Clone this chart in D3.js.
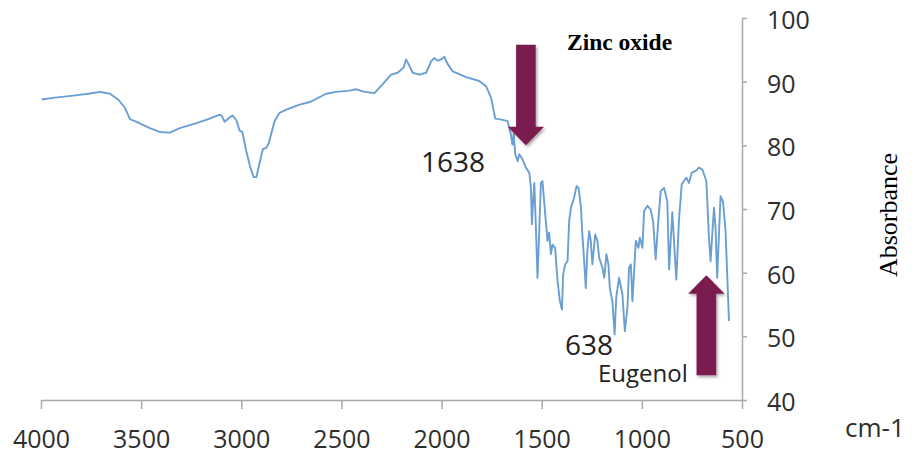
<!DOCTYPE html>
<html>
<head>
<meta charset="utf-8">
<script src="https://cdn.jsdelivr.net/npm/d3@7"></script>
<style>
  html, body { margin: 0; background: #fff; }
  svg { display: block; }
</style>
</head>
<body>
<svg id="chart" width="912" height="456"></svg>
<script>
// FTIR spectrum: wavenumber (cm-1) and absorbance
const wavenumber = [
  3997, 3930, 3839, 3764, 3706, 3656, 3615, 3581, 3556, 3523,
  3457, 3407, 3357, 3307, 3224, 3158, 3111, 3099, 3083, 3061,
  3044, 3024, 3008, 2995, 2975, 2955, 2938, 2925, 2908, 2892,
  2875, 2862, 2834, 2809, 2775, 2709, 2658, 2576, 2526, 2460,
  2426, 2385, 2335, 2294, 2252, 2219, 2190, 2177, 2164, 2144,
  2111, 2077, 2052, 2036, 2019, 2002, 1986, 1970, 1944, 1878,
  1812, 1778, 1753, 1732, 1695, 1670, 1662, 1654, 1646, 1640,
  1632, 1620, 1612, 1596, 1579, 1562, 1554, 1549, 1542, 1537,
  1529, 1521, 1513, 1504, 1496, 1488, 1471, 1463, 1454, 1446,
  1433, 1421, 1409, 1399, 1393, 1383, 1371, 1363, 1354, 1338,
  1326, 1316, 1304, 1297, 1288, 1280, 1272, 1263, 1255, 1247,
  1233, 1222, 1213, 1197, 1188, 1177, 1167, 1160, 1147, 1136,
  1128, 1114, 1097, 1085, 1072, 1064, 1055, 1047, 1030, 1017,
  1010, 997, 989, 972, 956, 944, 931, 918, 906, 889,
  873, 864, 848, 828, 815, 801, 778, 765, 751, 731,
  715, 698, 678, 665, 657, 640, 632, 624, 607, 595,
  582, 565
];
const absorbance = [
  87.2, 87.5, 87.8, 88.1, 88.4, 88.1, 87.2, 85.9, 84.1, 83.7,
  82.7, 82.1, 82.0, 82.7, 83.5, 84.2, 84.8, 84.7, 83.7, 84.3,
  84.7, 83.9, 82.3, 82.1, 79.1, 76.5, 75.0, 75.0, 77.3, 79.4,
  79.6, 80.4, 83.8, 85.1, 85.6, 86.4, 86.8, 88.1, 88.4, 88.6,
  88.8, 88.4, 88.2, 89.6, 91.1, 91.4, 92.2, 93.5, 92.7, 91.4,
  91.1, 91.4, 93.2, 93.7, 93.3, 93.5, 93.9, 92.8, 91.6, 90.7,
  90.1, 89.3, 87.5, 84.2, 84.0, 83.8, 82.7, 81.7, 80.1, 81.8,
  78.6, 77.5, 78.6, 77.8, 76.5, 75.7, 73.3, 67.6, 71.8, 74.1,
  67.0, 59.2, 66.0, 74.1, 74.4, 71.2, 65.0, 66.3, 62.9, 64.4,
  63.9, 58.7, 55.5, 54.2, 59.7, 61.3, 61.8, 68.1, 70.2, 71.8,
  73.6, 73.3, 70.2, 66.0, 61.8, 57.6, 63.4, 66.5, 65.0, 61.3,
  66.0, 65.0, 62.3, 60.8, 59.2, 62.9, 61.3, 57.6, 55.5, 50.3,
  56.1, 59.2, 56.6, 50.8, 54.5, 60.8, 61.3, 55.5, 65.0, 63.9,
  65.5, 63.9, 69.7, 70.5, 69.9, 68.1, 62.1, 68.1, 72.8, 73.3,
  71.2, 60.5, 69.5, 58.9, 68.1, 73.9, 74.9, 74.1, 75.7, 76.0,
  76.5, 76.2, 74.4, 65.5, 61.8, 70.2, 67.0, 59.2, 72.0, 71.2,
  66.5, 52.4
];

const xTickValues = [4000, 3500, 3000, 2500, 2000, 1500, 1000, 500];
const yTickValues = [40, 50, 60, 70, 80, 90, 100];

const svg = d3.select('#chart');

const x = d3.scaleLinear().domain([4000, 500]).range([41, 742]);
const y = d3.scaleLinear().domain([40, 100]).range([400, 18]);

const axisColor = '#a9a9a9';
const labelColor = '#2e2e2e';
const sans = '"Open Sans", "DejaVu Sans", sans-serif';
const serif = '"Liberation Serif", "DejaVu Serif", serif';

// bottom axis (wavenumber)
const gx = svg.append('g')
  .attr('transform', `translate(0,${y(40)})`)
  .call(d3.axisBottom(x).tickValues(xTickValues).tickFormat(d3.format('d'))
    .tickSize(9).tickSizeOuter(0).tickPadding(21));
gx.select('.domain').attr('stroke', axisColor).attr('stroke-width', 1.5);
gx.selectAll('.tick line').attr('stroke', axisColor).attr('stroke-width', 1.5);
gx.selectAll('.tick text')
  .attr('fill', labelColor)
  .style('font-family', sans)
  .style('font-size', '25px');

// right axis (absorbance)
const gy = svg.append('g')
  .attr('transform', `translate(${x(500)},0)`)
  .call(d3.axisRight(y).tickValues(yTickValues).tickFormat(d3.format('d'))
    .tickSize(5).tickSizeOuter(0).tickPadding(20));
gy.select('.domain').attr('stroke', axisColor).attr('stroke-width', 1.5);
gy.selectAll('.tick line').attr('stroke', axisColor).attr('stroke-width', 1.5);
gy.selectAll('.tick text')
  .attr('fill', labelColor)
  .attr('dy', '0.42em')
  .style('font-family', sans)
  .style('font-size', '25px');

// spectrum trace
const points = wavenumber.map((w, i) => [w, absorbance[i]]);
const line = d3.line().x(d => x(d[0])).y(d => y(d[1]));
svg.append('path')
  .datum(points)
  .attr('fill', 'none')
  .attr('stroke', '#6a9fd4')
  .attr('stroke-width', 1.9)
  .attr('stroke-linejoin', 'round')
  .attr('d', line);

// soft drop shadow for the block arrows
const defs = svg.append('defs');
defs.append('filter')
  .attr('id', 'arrowShadow')
  .attr('x', '-30%').attr('y', '-10%').attr('width', '160%').attr('height', '130%')
  .append('feDropShadow')
  .attr('dx', 1.5).attr('dy', 2).attr('stdDeviation', 1.5)
  .attr('flood-color', '#000').attr('flood-opacity', 0.35);

// vertical block arrow from (cx, yFrom) to its tip at (cx, yTip)
function blockArrow(cx, yFrom, yTip, shaftHalf, headHalf, headLen) {
  const dir = yTip > yFrom ? 1 : -1;
  const yBase = yTip - dir * headLen;
  const p = d3.path();
  p.moveTo(cx - shaftHalf, yFrom);
  p.lineTo(cx - shaftHalf, yBase);
  p.lineTo(cx - headHalf, yBase);
  p.lineTo(cx, yTip);
  p.lineTo(cx + headHalf, yBase);
  p.lineTo(cx + shaftHalf, yBase);
  p.lineTo(cx + shaftHalf, yFrom);
  p.closePath();
  return p.toString();
}

const arrowColor = '#7a1c50';
const arrows = [
  { wn: 1579, from: 95.8, to: 80.0 },   // zinc oxide band
  { wn: 678, from: 43.9, to: 59.6 }     // eugenol band
];
svg.selectAll('path.arrow')
  .data(arrows)
  .join('path')
  .attr('class', 'arrow')
  .attr('fill', arrowColor)
  .attr('filter', 'url(#arrowShadow)')
  .attr('d', d => blockArrow(x(d.wn), y(d.from), y(d.to), 9.8, 18.2, 18.5));

// annotations
svg.append('text')
  .attr('x', 567).attr('y', 50)
  .style('font-family', serif).style('font-weight', 'bold').style('font-size', '23.5px')
  .attr('fill', '#000')
  .text('Zinc oxide');

svg.append('text')
  .attr('x', 485).attr('y', 172)
  .attr('text-anchor', 'end')
  .style('font-family', sans).style('font-size', '28px')
  .attr('fill', '#222')
  .text('1638');

svg.append('text')
  .attr('x', 565).attr('y', 355)
  .style('font-family', sans).style('font-size', '28px')
  .attr('fill', '#222')
  .text('638');

svg.append('text')
  .attr('x', 598).attr('y', 382)
  .style('font-family', sans).style('font-size', '24px')
  .attr('fill', '#222')
  .text('Eugenol');

svg.append('text')
  .attr('x', 845).attr('y', 437)
  .style('font-family', sans).style('font-size', '26px')
  .attr('fill', labelColor)
  .text('cm-1');

svg.append('text')
  .attr('transform', 'translate(897,215) rotate(-90)')
  .attr('text-anchor', 'middle')
  .style('font-family', serif).style('font-size', '26px')
  .attr('fill', '#000')
  .text('Absorbance');
</script>
</body>
</html>
